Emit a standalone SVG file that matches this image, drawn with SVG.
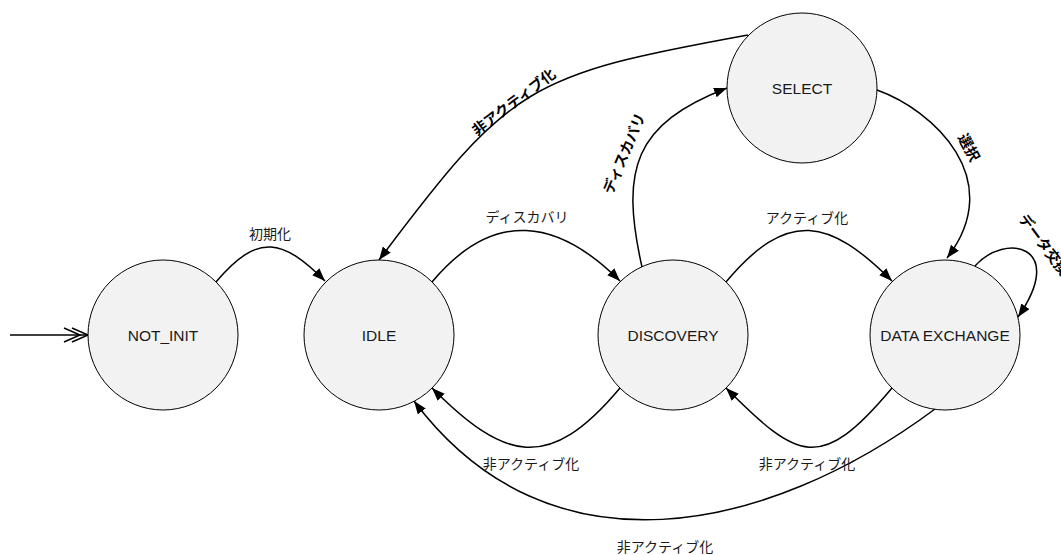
<svg xmlns="http://www.w3.org/2000/svg" width="1061" height="555" viewBox="0 0 1061 555">
  <style>
    .state { fill: #f2f2f2; stroke: #000; stroke-width: 1; }
    .state-label { font-family: "Liberation Sans", Arial, sans-serif; font-size: 15.5px; fill: #1a1a1a; text-anchor: middle; dominant-baseline: central; }
    .edge { fill: none; stroke: #000; stroke-width: 1.5; marker-end: url(#arrow); }
    .edge-label { font-family: "Noto Sans CJK JP", "Noto Sans", sans-serif; font-size: 14px; fill: #1a1a1a; text-anchor: middle; dominant-baseline: central; }
    .edge-label-bold { font-family: "Noto Sans CJK JP", "Noto Sans", sans-serif; font-size: 14.5px; font-weight: bold; fill: #000; text-anchor: middle; dominant-baseline: central; }
  </style>
  <defs>
    <!-- filled block arrowhead, tip sits on the path end -->
    <marker id="arrow" markerUnits="userSpaceOnUse" markerWidth="14" markerHeight="11" refX="13" refY="5" orient="auto">
      <path d="M0,0 L13,5 L0,10 Z" fill="#000"/>
    </marker>
  </defs>

  <rect width="1061" height="555" fill="#fff"/>

  <!-- transitions -->
  <g id="connectors">
    <!-- initial pseudo-state -->
    <g id="edge-start" fill="none" stroke="#000" stroke-width="1.5">
      <path d="M10,335 L88,335"/>
      <path d="M64,328 L80,335 L64,342"/>
      <path d="M72,328 L88,335 L72,342"/>
    </g>
    <path id="edge-init" class="edge" d="M216,282 C258,232 283,239 325,281"/>
    <path id="edge-idle-discovery" class="edge" d="M432,282 C494,208 558,219 620,281"/>
    <path id="edge-discovery-dx" class="edge" d="M726,282 C788,208 830,219 892,281"/>
    <path id="edge-discovery-idle" class="edge" d="M620,388 C548,474 504,460 432,388"/>
    <path id="edge-dx-discovery" class="edge" d="M892,388 C820,474 798,460 726,388"/>
    <path id="edge-dx-idle" class="edge" d="M935,409 C767,534 549,581 414,401"/>
    <path id="edge-select-idle" class="edge" d="M748,35 C528,75 511,84 379,260"/>
    <path id="edge-discovery-select" class="edge" d="M642,267 C620,169 634,124 727,88"/>
    <path id="edge-select-dx" class="edge" d="M877,90 C933,110 1008,179 947,258"/>
    <path id="edge-dx-loop" class="edge" d="M975,266 C1005,232 1068,245 1018,317"/>

    <!-- transition labels -->
    <g id="edge-labels">
      <text class="edge-label" x="270" y="233">初期化</text>
      <text class="edge-label" x="527" y="216">ディスカバリ</text>
      <text class="edge-label" x="807" y="217">アクティブ化</text>
      <text class="edge-label" x="531" y="463">非アクティブ化</text>
      <text class="edge-label" x="807" y="463">非アクティブ化</text>
      <text class="edge-label" x="665" y="546">非アクティブ化</text>
      <text class="edge-label-bold" transform="translate(513,101) rotate(-37)">非アクティブ化</text>
      <text class="edge-label-bold" transform="translate(623,153) rotate(-67)">ディスカバリ</text>
      <text class="edge-label-bold" transform="translate(970,147) rotate(62)">選択</text>
      <text class="edge-label-bold" transform="translate(1045,244) rotate(53)">データ交換</text>
    </g>
  </g>

  <!-- states -->
  <g id="state-not-init">
    <circle class="state" cx="163" cy="335" r="75"/>
    <text class="state-label" x="163" y="335">NOT_INIT</text>
  </g>
  <g id="state-idle">
    <circle class="state" cx="379" cy="335" r="75"/>
    <text class="state-label" x="379" y="335">IDLE</text>
  </g>
  <g id="state-discovery">
    <circle class="state" cx="673" cy="335" r="75"/>
    <text class="state-label" x="673" y="335">DISCOVERY</text>
  </g>
  <g id="state-select">
    <circle class="state" cx="802" cy="88" r="75"/>
    <text class="state-label" x="802" y="88">SELECT</text>
  </g>
  <g id="state-data-exchange">
    <circle class="state" cx="945" cy="335" r="75"/>
    <text class="state-label" x="945" y="335">DATA EXCHANGE</text>
  </g>
</svg>
